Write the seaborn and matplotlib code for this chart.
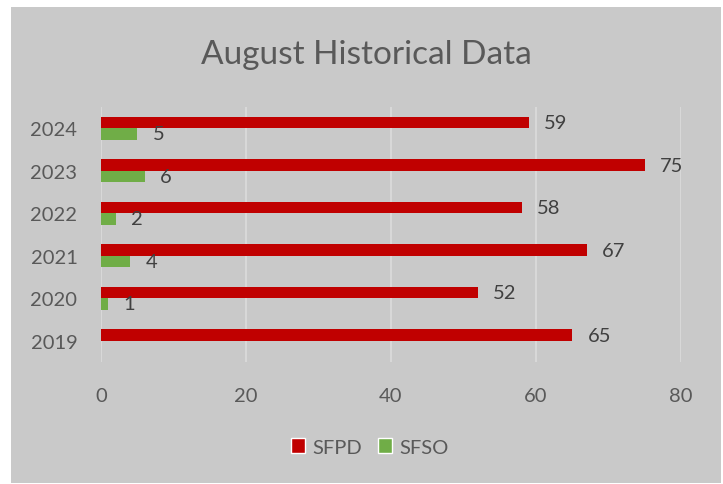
import numpy as np
import pandas as pd
import matplotlib
matplotlib.use("Agg")
import matplotlib.pyplot as plt
import seaborn as sns
from matplotlib.patches import Rectangle

years = ["2024", "2023", "2022", "2021", "2020", "2019"]
sfpd = [59, 75, 58, 67, 52, 65]
sfso = [5, 6, 2, 4, 1, 0]
series = ["SFPD", "SFSO"]
colors = ["#C00000", "#70AD47"]

df = pd.DataFrame({
    "year": years * 2,
    "count": sfpd + sfso,
    "agency": ["SFPD"] * len(years) + ["SFSO"] * len(years),
})

sns.set_theme(style="white")
plt.rcParams["font.family"] = ["Lato", "DejaVu Sans"]

bg = "#C9C9C9"
fig = plt.figure(figsize=(7.23, 4.85), dpi=100)
fig.patch.set_facecolor("white")
# grey chart area like the Excel frame
fig.patches.append(Rectangle((11 / 723, 0.002), 710 / 723, 1 - 8 / 485 - 0.002,
                             transform=fig.transFigure, facecolor=bg,
                             edgecolor="none", zorder=-5))

ax = fig.add_axes([101 / 723, 1 - 363 / 485, 580 / 723, 255 / 485])
ax.set_zorder(2)
ax.patch.set_alpha(0)

sns.barplot(data=df, y="year", x="count", hue="agency", order=years,
            hue_order=series, palette=colors, orient="h", width=0.54,
            gap=0, saturation=1, legend=False, linewidth=0, ax=ax, zorder=3)

for c in ax.containers:
    labels = [f"{b.get_width():.0f}" if b.get_width() > 0 else "" for b in c]
    ax.bar_label(c, labels=labels, padding=11, fontsize=14.5, color="#404040")

ax.set_xlim(0, 80)
ax.set_xticks([0, 20, 40, 60, 80])
ax.grid(axis="x", color="#DCDCDC", linewidth=1.2, zorder=0)
ax.grid(axis="y", visible=False)
ax.set_axisbelow(True)
for s in ax.spines.values():
    s.set_visible(False)
ax.set_xlabel("")
ax.set_ylabel("")
ax.tick_params(axis="x", length=0, pad=18, labelsize=14.5, labelcolor="#595959")
ax.tick_params(axis="y", length=0, pad=17, labelsize=14.5, labelcolor="#595959")

fig.text(366 / 723, 1 - 55 / 485, "August Historical Data", ha="center",
         va="center", fontsize=24, color="#595959")

handles = [Rectangle((0, 0), 1, 1, facecolor=col) for col in colors]
fig.legend(handles, series, loc="center", bbox_to_anchor=(370 / 723, 1 - 448 / 485),
           ncol=2, frameon=False, fontsize=14.5, labelcolor="#595959",
           handlelength=0.7, handleheight=0.7, handletextpad=0.35,
           columnspacing=0.8)

fig.savefig("out.png", dpi=100)
